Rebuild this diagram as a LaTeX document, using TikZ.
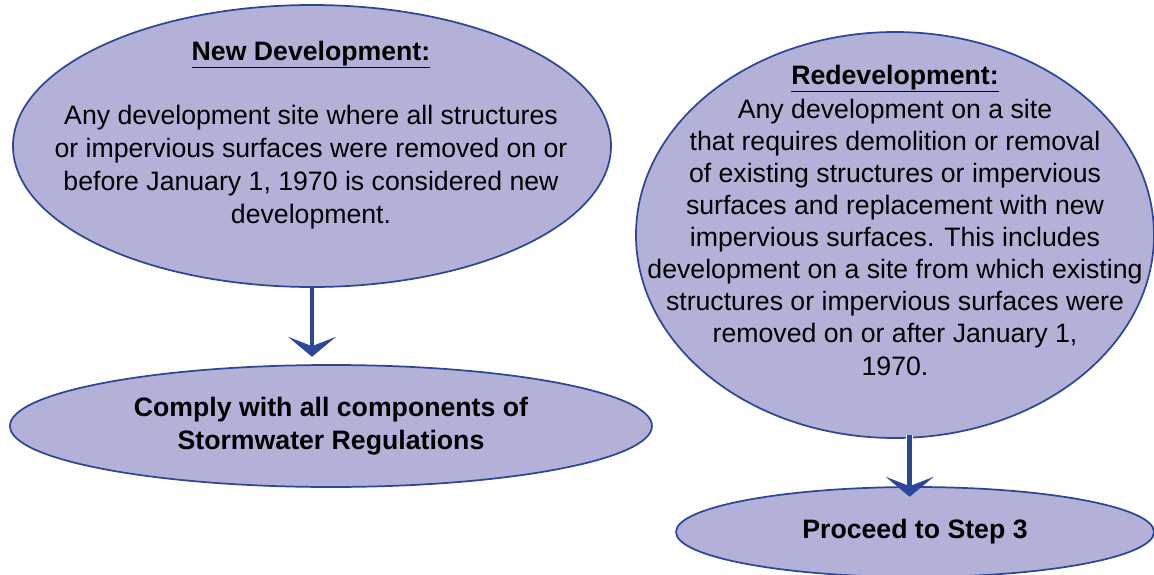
\documentclass[tikz,border=0pt]{standalone}
\usepackage{fontspec}
\setmainfont{Liberation Sans}
\usetikzlibrary{shapes.geometric,arrows.meta}
\definecolor{efill}{RGB}{179,177,216}
\definecolor{eline}{RGB}{44,70,152}
\newcommand{\ulbf}[1]{\underline{\textbf{#1}}}
\begin{document}
\begin{tikzpicture}[x=0.75pt,y=-0.75pt,
  oval/.style={ellipse,draw=eline,fill=efill,line width=1.3pt,inner sep=0pt},
  body/.style={align=center,font=\fontsize{20}{24.6}\selectfont,inner sep=0pt},
  conn/.style={draw=eline,line width=3.4pt,-{Stealth[length=15pt,width=36pt,inset=7pt]}}]
\useasboundingbox (0,0) rectangle (1154,575);
\node[oval,minimum width=448.5pt,minimum height=211.5pt] (nd) at (312,146) {};
\node[oval,minimum width=481.5pt,minimum height=91.5pt,body] (comply) at (331,426) {\textbf{Comply with all components of}\\\textbf{Stormwater Regulations}};
\node[oval,minimum width=388.5pt,minimum height=304.5pt] (redev) at (895,235) {};
\node[oval,minimum width=358.5pt,minimum height=67.5pt,body] (proceed) at (915,532) {\textbf{Proceed to Step 3}};
\node[body,anchor=base] (ndtitle) at (311,60) {\ulbf{New Development:}};
\node[body] (ndtext) at (311,167) {Any development site where all structures\\or impervious surfaces were removed on or\\before January 1, 1970 is considered new\\development.};
\node[body,anchor=base] (rdtitle) at (895,84) {\ulbf{Redevelopment:}};
\node[body,font=\fontsize{20}{24.1}\selectfont] (rdtext) at (895,237) {Any development on a site\\that requires demolition or removal\\of existing structures or impervious\\surfaces and replacement with new\\impervious surfaces. This includes\\development on a site from which existing\\structures or impervious surfaces were\\removed on or after January 1,\\1970.};
\coordinate (a1s) at ([yshift=1pt]nd.south);
\coordinate (a1e) at ([yshift=5.5pt]comply.north -| nd.south);
\draw[conn] (a1s) -- (a1e);
\coordinate (a2s) at ([xshift=11pt,yshift=3pt]redev.south);
\coordinate (a2e) at ([yshift=-8pt]proceed.north -| a2s);
\draw[white,line width=5.5pt] (a2s) -- ([yshift=8pt]a2e);
\draw[conn] (a2s) -- (a2e);
\end{tikzpicture}
\end{document}
